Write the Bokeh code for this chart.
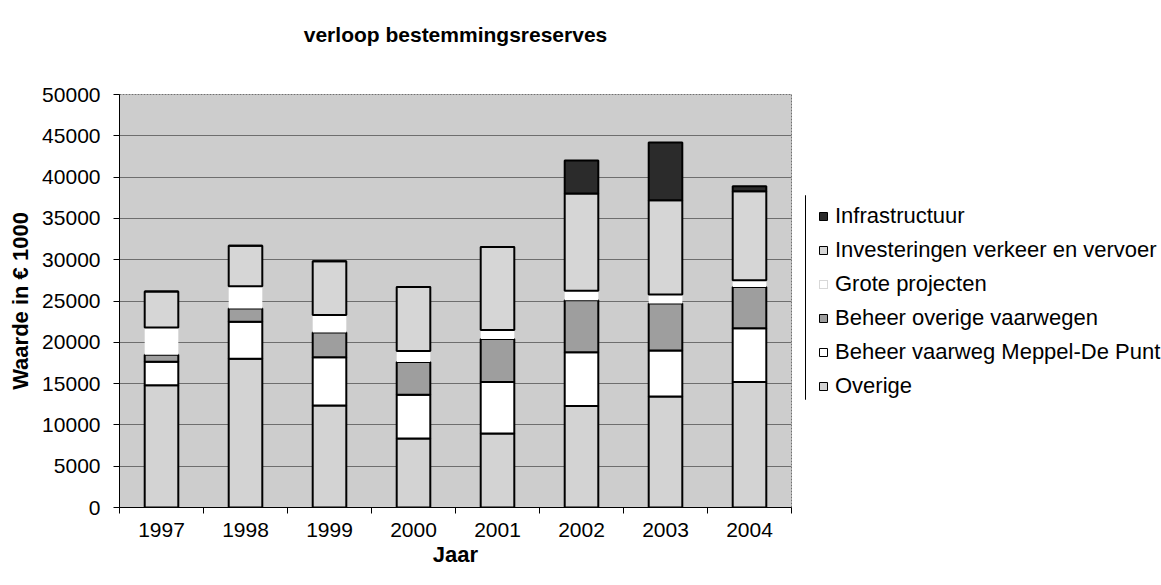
from bokeh.plotting import figure
from bokeh.models import ColumnDataSource, Range1d, FixedTicker, Legend, LegendItem, Title
from bokeh.layouts import row
from bokeh.transform import stack
from bokeh.embed import file_html
from bokeh.resources import INLINE

years = [1997, 1998, 1999, 2000, 2001, 2002, 2003, 2004]
overige = [14800, 18000, 12350, 8350, 8950, 12300, 13450, 15200]
meppel = [2850, 4500, 5850, 5300, 6250, 6500, 5550, 6500]
beheer_overig = [850, 1600, 3000, 3950, 5200, 6300, 5700, 5000]
grote = [3300, 2700, 2100, 1350, 1100, 1150, 1100, 800]
investeringen = [4350, 4900, 6500, 7750, 10050, 11750, 11400, 10800]
infra = [0, 0, 0, 0, 0, 4000, 7000, 600]

series_keys = ["overige", "meppel", "beheer", "grote", "invest", "infra"]
series_labels = ["Overige", "Beheer vaarweg Meppel-De Punt", "Beheer overige vaarwegen",
                 "Grote projecten", "Investeringen verkeer en vervoer", "Infrastructuur"]
y_ticks = list(range(0, 50001, 5000))

FONT = "Liberation Sans"
styles = [
    dict(fill_color="#d3d3d3", line_color="black", line_width=2),
    dict(fill_color="white", line_color="black", line_width=2),
    dict(fill_color="#9e9e9e", line_color="black", line_width=2),
    dict(fill_color="white", line_color=None),
    dict(fill_color="#d6d6d6", line_color="black", line_width=2),
    dict(fill_color="#2b2b2b", line_color="black", line_width=2),
]

source = ColumnDataSource(dict(year=years, overige=overige, meppel=meppel, beheer=beheer_overig,
                               grote=grote, invest=investeringen, infra=infra))

p = figure(width=798, height=569, output_backend="svg", toolbar_location=None,
           x_range=Range1d(1996.5, 2004.5), y_range=Range1d(0, 50000),
           min_border_left=119, min_border_right=7, min_border_top=94, min_border_bottom=61)
p.background_fill_color = "#cdcdcd"
p.border_fill_color = "white"
p.outline_line_color = "#707070"
p.outline_line_dash = "2 1"

spacer = Title(text=" ", align="center", text_font=FONT, text_font_size="21px", standoff=24)
p.add_layout(spacer, "above")
t = Title(text="verloop bestemmingsreserves", align="center", text_font=FONT,
          text_font_size="21px", text_font_style="bold", text_color="black", standoff=0)
p.add_layout(t, "above")

for i, key in enumerate(series_keys):
    p.vbar(x="year", width=0.4, bottom=stack(*series_keys[:i]), top=stack(*series_keys[:i + 1]),
           source=source, **styles[i])

# axes
p.xaxis.ticker = FixedTicker(ticks=years, minor_ticks=[y + 0.5 for y in [1996] + years])
p.xaxis.minor_tick_out = 6
p.xaxis.minor_tick_in = 0
p.xaxis.minor_tick_line_color = "black"
p.xaxis.axis_label = "Jaar"
p.yaxis.ticker = FixedTicker(ticks=y_ticks)
p.yaxis.major_tick_out = 6
p.yaxis.major_tick_in = 0
p.yaxis.minor_tick_line_color = None
p.yaxis.axis_label = "Waarde in € 1000"
for ax in (p.xaxis[0], p.yaxis[0]):
    ax.axis_line_color = "black"
    ax.major_label_text_font = FONT
    ax.major_label_text_font_size = "21px"
    ax.major_label_text_color = "black"
    ax.axis_label_text_font = FONT
    ax.axis_label_text_font_size = "22px"
    ax.axis_label_text_font_style = "bold"
    ax.axis_label_text_color = "black"
p.xaxis.major_tick_line_color = None
p.yaxis.major_tick_line_color = "black"
p.xaxis.major_label_standoff = 9
p.xaxis.axis_label_standoff = 2
p.yaxis.major_label_standoff = 13
p.yaxis.axis_label_standoff = 6

p.xgrid.grid_line_color = None
p.ygrid.ticker = FixedTicker(ticks=y_ticks)
p.ygrid.grid_line_color = "#6e6e6e"
p.ygrid.grid_line_width = 1

# legend panel (its frame aligns with the chart's frame vertically)
p2 = figure(width=363, height=569, output_backend="svg", toolbar_location=None,
            x_range=Range1d(798, 1161), y_range=Range1d(508, 94),
            min_border=0, min_border_left=0, min_border_right=0, min_border_top=0, min_border_bottom=0)
p2.axis.visible = False
p2.grid.visible = False
p2.outline_line_color = None
p2.background_fill_color = "white"
p2.border_fill_color = "white"
p2.line(x=[805, 805], y=[195, 400], line_color="black", line_width=1)

items = []
for i, key in enumerate(series_keys):
    st = dict(styles[i])
    st["line_width"] = 1
    if st["line_color"] is None:
        st["line_color"] = "#b0b0b0"
        st["line_dash"] = "1 1"
    r = p2.rect(x=[0], y=[0], width=1, height=1, **st)
    items.append(LegendItem(label=series_labels[i], renderers=[r]))
items = items[::-1]

legend = Legend(items=items, location=(20, 104), orientation="vertical",
                label_text_font=FONT, label_text_font_size="22px", label_text_color="black",
                glyph_width=10, glyph_height=10, label_standoff=7, spacing=0, label_height=34,
                padding=0, margin=0, border_line_color=None, background_fill_alpha=0)
p2.add_layout(legend, "center")

layout = row(p, p2, spacing=0)
open("out.html", "w").write(file_html(layout, INLINE))
